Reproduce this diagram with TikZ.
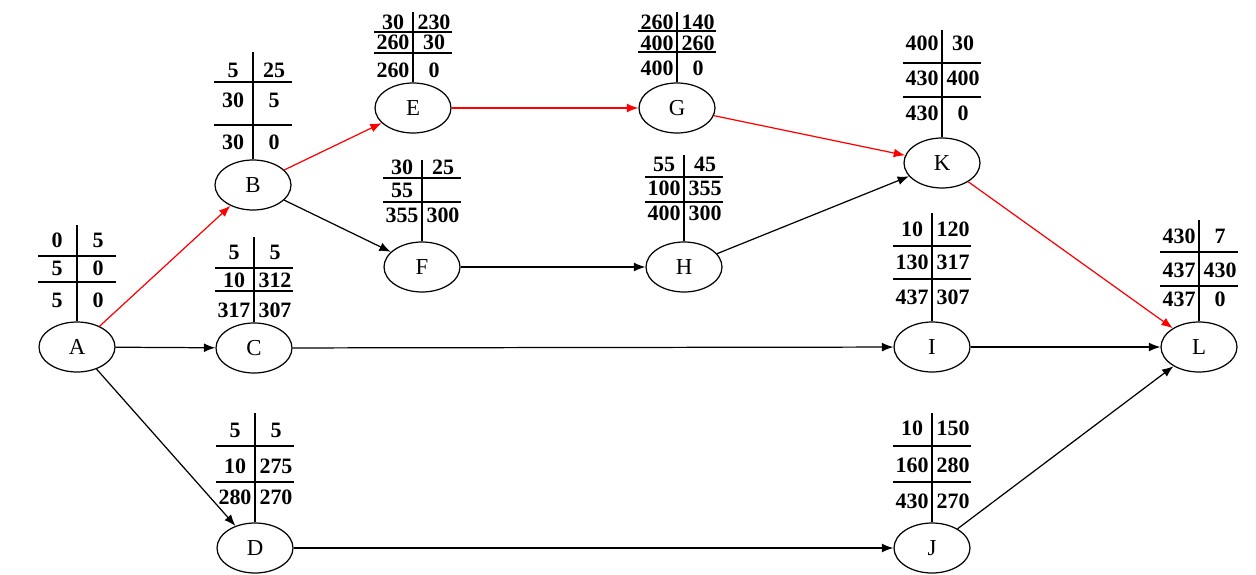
\documentclass[tikz,border=0pt]{standalone}
\usepackage{fontspec}
\setmainfont{Liberation Serif}
\usetikzlibrary{shapes.geometric,arrows.meta}

\begin{document}
\begin{tikzpicture}[-,>={Latex[length=6.5pt,width=5pt]},x=0.02cm,y=-0.02cm,line width=0.7pt,
    event/.style={ellipse,draw,minimum width=1.52cm,minimum height=1cm,inner sep=0pt,font=\fontsize{13}{15}\selectfont},
    num/.style={font=\bfseries\fontsize{12.5}{14}\selectfont,inner sep=0pt},
    rule/.style={-,line width=0.6pt},
    act/.style={->},
    crit/.style={->,red}]

    \useasboundingbox (0,0) rectangle (1256,574);

    % name/x/y/top/line1/line2/row1/row2/row3 then the six values
    \foreach \nm/\cx/\cy/\ytop/\ya/\yb/\ra/\rb/\rc/\ka/\kb/\kc/\kd/\ke/\kf in {
        A/77/347/225/256/282/240/268/300/0/5/5/0/5/0,
        B/253/185/52/82/125/70/100/142/5/25/30/5/30/0,
        C/254/348/237/268/291/252/280/310/5/5/10/312/317/307,
        D/255/548/413/446/482/430/466/497/5/5/10/275/280/270,
        E/413/108/12/32/53/22/42/70/30/230/260/30/260/0,
        F/422/267/160/178/202/167/190/215/30/25/55/{}/355/300,
        G/677/108/12/31/52/22/43/68/260/140/400/260/400/0,
        H/684/267/155/177/202/164/188/213/55/45/100/355/400/300,
        K/942/163/30/63/97/43/78/113/400/30/430/400/430/0,
        I/932/347/213/246/279/229/262/297/10/120/130/317/437/307,
        J/932/548/413/446/482/428/465/501/10/150/160/280/430/270,
        L/1199/347/220/252/286/236/270/299/430/7/437/430/437/0}{
        \node[event] (\nm) at (\cx,\cy) {\nm};
        \draw[rule] (\nm.north) -- (\cx,\ytop);
        \draw[rule] ({\cx-39},\ya) -- ({\cx+39},\ya);
        \draw[rule] ({\cx-39},\yb) -- ({\cx+39},\yb);
        \node[num] (\nm-1) at ({\cx-20},\ra) {\ka};
        \node[num] (\nm-2) at ({\cx+21},\ra) {\kb};
        \node[num] (\nm-3) at ({\cx-20},\rb) {\kc};
        \node[num] (\nm-4) at ({\cx+21},\rb) {\kd};
        \node[num] (\nm-5) at ({\cx-20},\rc) {\ke};
        \node[num] (\nm-6) at ({\cx+21},\rc) {\kf};
    }

    \draw[crit] (A) to (B);
    \draw[act] (A) to (C);
    \draw[act] (A) to (D);
    \draw[crit] (B) to (E);
    \draw[act] (B) to (F);
    \draw[act] (C) to (I);
    \draw[act] (D) to (J);
    \draw[crit] (E) to (G);
    \draw[act] (F) to (H);
    \draw[crit] (G) to (K);
    \draw[act] (H) to (K);
    \draw[act] (I) to (L);
    \draw[act] (J) to (L);
    \draw[crit] (K) to (L);
\end{tikzpicture}
\end{document}
